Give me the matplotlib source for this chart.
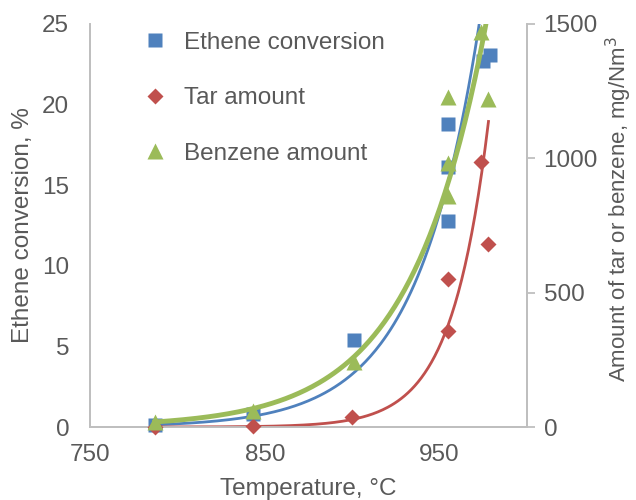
import numpy as np
import matplotlib
matplotlib.use("Agg")
import matplotlib.pyplot as plt
from matplotlib.lines import Line2D

plt.rcParams['font.family'] = ['Liberation Sans', 'DejaVu Sans']

# Measured data
temp_conv = [787, 843, 901, 955, 955, 955, 975, 979]
ethene_conv = [0.1, 0.8, 5.4, 18.8, 16.1, 12.8, 22.7, 23.1]

temp_tar = [787, 843, 900, 955, 955, 974, 978]
tar_amount = [0.1, 2.2, 36, 551, 357, 987, 680]

temp_benz = [787, 843, 901, 955, 955, 955, 974, 978]
benzene_amount = [20, 61, 243, 1227, 982, 860, 1471, 1220]

blue = '#4F81BD'
red = '#C0504D'
green = '#9BBB59'
grey_text = '#595959'
grey_line = '#BFBFBF'
fs = 17.5


def exp_trend(x, y, n=200):
    # exponential trendline y = a*exp(b*x), fitted on log(y)
    b, ln_a = np.polyfit(x, np.log(y), 1)
    xs = np.linspace(min(x), max(x), n)
    return xs, np.exp(ln_a + b * xs)


fig = plt.figure(figsize=(6.36, 5.0), dpi=100)
ax = fig.add_axes([0.1415, 0.146, 0.687, 0.806])
ax2 = ax.twinx()

ax.set_xlim(750, 1000)
ax.set_ylim(0, 25)
ax2.set_ylim(0, 1500)

# trendlines
xs, ys = exp_trend(temp_conv, ethene_conv)
ax.plot(xs, ys, color=blue, lw=2, zorder=2)
xs, ys = exp_trend(temp_tar, tar_amount)
ax2.plot(xs, ys, color=red, lw=2, zorder=2)
xs, ys = exp_trend(temp_benz, benzene_amount)
ax2.plot(xs, ys, color=green, lw=3.5, zorder=2)

# data points
ax.plot(temp_conv, ethene_conv, 's', color=blue, ms=10, mec='none', zorder=3, clip_on=False)
ax2.plot(temp_tar, tar_amount, 'D', color=red, ms=8.5, mec='none', zorder=3, clip_on=False)
ax2.plot(temp_benz, benzene_amount, '^', color=green, ms=12, mec='none', zorder=3, clip_on=False)

ax.set_xticks([750, 850, 950])
ax.set_yticks(range(0, 26, 5))
ax2.set_yticks([0, 500, 1000, 1500])

for a in (ax, ax2):
    for s in a.spines.values():
        s.set_color(grey_line)
        s.set_linewidth(1.3)
    a.spines['top'].set_visible(False)
    a.tick_params(labelsize=fs, labelcolor=grey_text, color=grey_line)

ax.tick_params(axis='x', length=0, pad=12)
ax.tick_params(axis='y', length=0, pad=15)
ax2.tick_params(axis='y', length=6, width=1.3, pad=6)

ax.set_xlabel('Temperature, °C', fontsize=fs, color=grey_text, labelpad=9)
ax.set_ylabel('Ethene conversion, %', fontsize=fs, color=grey_text, labelpad=6)
ax2.set_ylabel('Amount of tar or benzene, mg/Nm$^3$', fontsize=16, color=grey_text)
ax2.yaxis.set_label_coords(1.175, 0.54)

handles = [
    Line2D([], [], marker='s', ls='none', color=blue, ms=10, mec='none'),
    Line2D([], [], marker='D', ls='none', color=red, ms=8.5, mec='none'),
    Line2D([], [], marker='^', ls='none', color=green, ms=12, mec='none'),
]
labels = ['Ethene conversion', 'Tar amount', 'Benzene amount']
leg = ax2.legend(handles, labels, loc='upper left', bbox_to_anchor=(0.066, 1.035),
                 frameon=False, fontsize=fs, labelspacing=1.38, handletextpad=0.6,
                 handlelength=1.2, labelcolor=grey_text)

fig.savefig('out.png', dpi=100)
